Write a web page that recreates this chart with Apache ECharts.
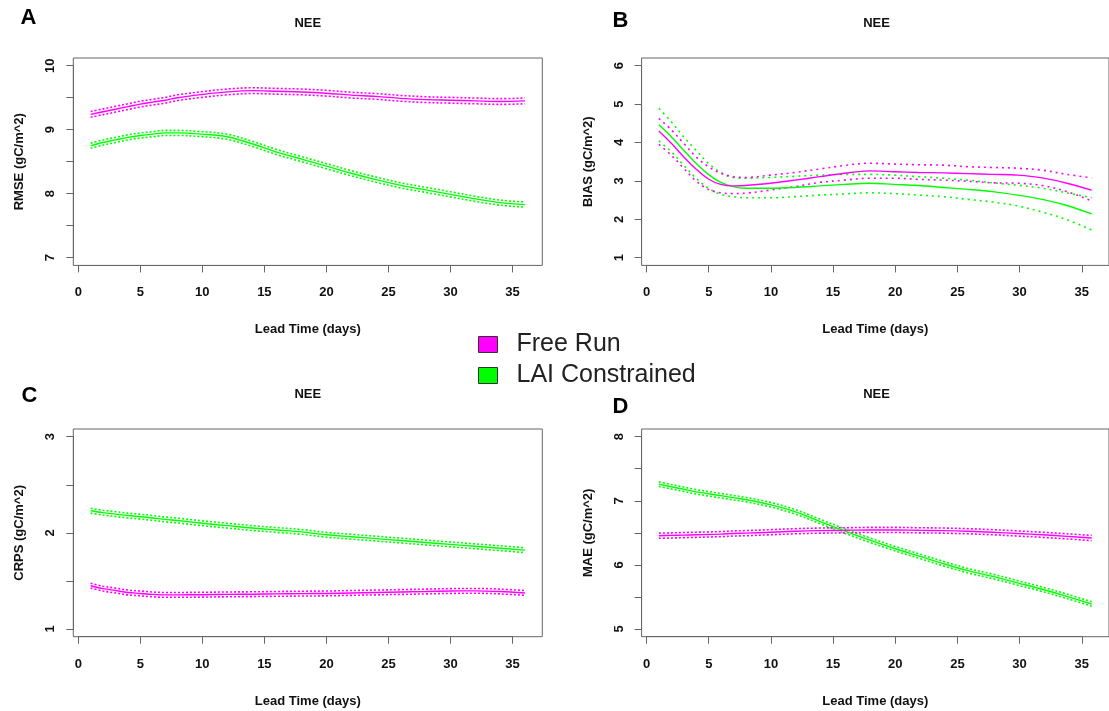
<!DOCTYPE html>
<html>
<head>
<meta charset="utf-8">
<script src="https://cdn.jsdelivr.net/npm/echarts@6/dist/echarts.min.js"></script>
<style>
  html, body { margin: 0; padding: 0; background: #ffffff; }
  #chart { width: 1109px; height: 711px; }
</style>
</head>
<body>
<div id="chart"></div>
<script>
// Lead times (days) at which the fitted curves are sampled
const days = [1, 2, 3, 4, 5, 6, 7, 8, 10, 12, 14, 16, 18, 20, 22, 24, 26, 28, 30, 32, 34, 36];

// Series labels
const seriesNames = ['Free Run', 'LAI Constrained'];

// A: RMSE
const rmseFree = [9.24, 9.28, 9.32, 9.36, 9.40, 9.43, 9.46, 9.50, 9.55, 9.59, 9.61, 9.60, 9.59, 9.57, 9.54, 9.52, 9.49, 9.47, 9.46, 9.45, 9.44, 9.45];
const rmseLai  = [8.75, 8.80, 8.84, 8.88, 8.91, 8.93, 8.95, 8.95, 8.93, 8.89, 8.78, 8.65, 8.54, 8.43, 8.32, 8.22, 8.13, 8.06, 7.99, 7.92, 7.86, 7.83];
const rmseFreeCI = 0.045;
const rmseLaiCI = 0.04;

// B: BIAS (fit with upper / lower confidence limits)
const biasFree   = [4.30, 3.98, 3.63, 3.31, 3.05, 2.91, 2.87, 2.88, 2.94, 3.02, 3.11, 3.20, 3.26, 3.24, 3.22, 3.21, 3.19, 3.17, 3.15, 3.08, 2.94, 2.76];
const biasFreeHi = [4.63, 4.33, 3.98, 3.63, 3.37, 3.20, 3.11, 3.09, 3.15, 3.22, 3.31, 3.40, 3.46, 3.44, 3.42, 3.41, 3.37, 3.35, 3.33, 3.28, 3.17, 3.08];
const biasFreeLo = [3.95, 3.67, 3.33, 3.00, 2.78, 2.69, 2.67, 2.68, 2.76, 2.85, 2.96, 3.02, 3.07, 3.07, 3.04, 3.02, 2.99, 2.95, 2.94, 2.88, 2.72, 2.48];
const biasLai    = [4.46, 4.15, 3.80, 3.46, 3.17, 2.96, 2.85, 2.81, 2.81, 2.83, 2.87, 2.91, 2.94, 2.91, 2.88, 2.83, 2.78, 2.72, 2.63, 2.52, 2.36, 2.14];
const biasLaiHi  = [4.89, 4.54, 4.15, 3.80, 3.46, 3.22, 3.09, 3.07, 3.09, 3.12, 3.15, 3.17, 3.17, 3.15, 3.11, 3.07, 3.02, 2.95, 2.89, 2.81, 2.69, 2.56];
const biasLaiLo  = [4.04, 3.76, 3.41, 3.07, 2.81, 2.65, 2.59, 2.56, 2.56, 2.59, 2.63, 2.66, 2.69, 2.67, 2.63, 2.59, 2.52, 2.45, 2.35, 2.19, 1.99, 1.72];

// C: CRPS
const crpsFree = [1.45, 1.42, 1.40, 1.38, 1.37, 1.36, 1.355, 1.355, 1.357, 1.36, 1.362, 1.365, 1.368, 1.37, 1.375, 1.38, 1.385, 1.39, 1.395, 1.397, 1.39, 1.375];
const crpsLai  = [2.23, 2.21, 2.195, 2.18, 2.168, 2.155, 2.14, 2.128, 2.10, 2.075, 2.05, 2.03, 2.01, 1.98, 1.96, 1.94, 1.92, 1.90, 1.88, 1.86, 1.84, 1.82];
const crpsFreeCI = 0.025;
const crpsLaiCI = 0.025;

// D: MAE
const maeFree = [6.455, 6.46, 6.465, 6.47, 6.475, 6.48, 6.49, 6.495, 6.51, 6.525, 6.535, 6.54, 6.545, 6.545, 6.54, 6.535, 6.525, 6.51, 6.49, 6.47, 6.445, 6.42];
const maeLai  = [7.26, 7.22, 7.18, 7.14, 7.11, 7.08, 7.05, 7.02, 6.94, 6.83, 6.68, 6.53, 6.39, 6.26, 6.14, 6.02, 5.91, 5.82, 5.72, 5.62, 5.51, 5.39];
const maeFreeCI = 0.04;
const maeLaiCI = 0.035;

// Tick ranges of each panel's axes: [first, last, step]
const xTicks = [0, 35, 5];
const rmseTicks = [7, 10, 0.5];
const biasTicks = [1, 6, 1];
const crpsTicks = [1, 3, 0.5];
const maeTicks = [5, 8, 0.5];

const FONT = '"Liberation Sans", Arial, Helvetica, sans-serif';
const MAGENTA = '#ff00ff';
const GREEN = '#00ff00';
const AXIS = '#666666';
const INK = '#111111';

const shift = (arr, d) => arr.map(v => +(v + d).toFixed(4));

const panels = [
  { letter: 'A', box: { left: 73.3, top: 58, width: 469, height: 207.4 }, yTicks: rmseTicks, yName: 'RMSE (gC/m^2)',
    free: rmseFree, freeHi: shift(rmseFree, rmseFreeCI), freeLo: shift(rmseFree, -rmseFreeCI),
    lai: rmseLai, laiHi: shift(rmseLai, rmseLaiCI), laiLo: shift(rmseLai, -rmseLaiCI), dash: [2, 2] },
  { letter: 'B', box: { left: 641.6, top: 58, width: 470, height: 207.4 }, yTicks: biasTicks, yName: 'BIAS (gC/m^2)',
    free: biasFree, freeHi: biasFreeHi, freeLo: biasFreeLo,
    lai: biasLai, laiHi: biasLaiHi, laiLo: biasLaiLo, dash: [2, 4] },
  { letter: 'C', box: { left: 73.3, top: 429, width: 469, height: 207.7 }, yTicks: crpsTicks, yName: 'CRPS (gC/m^2)',
    free: crpsFree, freeHi: shift(crpsFree, crpsFreeCI), freeLo: shift(crpsFree, -crpsFreeCI),
    lai: crpsLai, laiHi: shift(crpsLai, crpsLaiCI), laiLo: shift(crpsLai, -crpsLaiCI), dash: [2, 2] },
  { letter: 'D', box: { left: 641.6, top: 429, width: 470, height: 207.7 }, yTicks: maeTicks, yName: 'MAE (gC/m^2)',
    free: maeFree, freeHi: shift(maeFree, maeFreeCI), freeLo: shift(maeFree, -maeFreeCI),
    lai: maeLai, laiHi: shift(maeLai, maeLaiCI), laiLo: shift(maeLai, -maeLaiCI), dash: [2, 2] }
];

const letterPos = [
  { left: 20.5, top: 7 },
  { left: 612.5, top: 10 },
  { left: 21.5, top: 385 },
  { left: 612.5, top: 396 }
];

// R-style axis extension: 4% beyond the data / tick range
const xDataMin = days[0], xDataMax = days[days.length - 1];
const xPad = 0.04 * (xDataMax - xDataMin);
const xMin = xDataMin - xPad, xMax = xDataMax + xPad;

const grid = [], xAxis = [], yAxis = [], series = [], title = [];

const boldText = (size) => ({ fontFamily: FONT, fontWeight: 'bold', fontSize: size, color: INK });
const hiddenAxis = { axisLine: { show: false, onZero: false }, axisTick: { show: false }, axisLabel: { show: false }, splitLine: { show: false } };

panels.forEach((p, i) => {
  const b = p.box;
  const [y0, y1] = p.yTicks;
  const yPad = 0.04 * (y1 - y0);
  const yMin = y0 - yPad, yMax = y1 + yPad;

  // plotting region with its frame
  grid.push({ left: b.left, top: b.top, width: b.width, height: b.height,
    show: true, borderColor: AXIS, borderWidth: 1, backgroundColor: 'transparent' });
  xAxis.push({ type: 'value', gridIndex: i, min: xMin, max: xMax, ...hiddenAxis,
    name: 'Lead Time (days)', nameLocation: 'middle', nameGap: 58, nameTextStyle: boldText(13) });
  yAxis.push({ type: 'value', gridIndex: i, min: yMin, max: yMax, ...hiddenAxis,
    name: p.yName, nameLocation: 'middle', nameGap: 47, nameTextStyle: boldText(13) });

  title.push({ text: 'NEE', left: b.left + b.width / 2, top: b.top - 41, textAlign: 'center', padding: 0,
    textStyle: boldText(13) });
  title.push({ text: p.letter, left: letterPos[i].left, top: letterPos[i].top, padding: 0,
    textStyle: { fontFamily: FONT, fontWeight: 'bold', fontSize: 22, color: '#000' } });
});

// Axes that span only the tick range, lying on the frame edges.
// One helper grid carries the x axis (horizontal span = tick range), another the y axis.
panels.forEach((p, i) => {
  const b = p.box;
  const [y0, y1, yStep] = p.yTicks;
  const [x0, x1, xStep] = xTicks;
  const yPad = 0.04 * (y1 - y0);
  const yMin = y0 - yPad, yMax = y1 + yPad;
  const pxX = b.width / (xMax - xMin);
  const pxY = b.height / (yMax - yMin);

  const gx = grid.length;
  grid.push({ left: b.left + (x0 - xMin) * pxX, width: (x1 - x0) * pxX, top: b.top, height: b.height, show: false });
  xAxis.push({ type: 'value', gridIndex: gx, min: x0, max: x1, interval: xStep, position: 'bottom',
    axisLine: { show: true, onZero: false, lineStyle: { color: AXIS, width: 1 } },
    axisTick: { show: true, length: 7, lineStyle: { color: AXIS, width: 1 } },
    axisLabel: { ...boldText(13), margin: 21 }, splitLine: { show: false } });
  yAxis.push({ type: 'value', gridIndex: gx, min: yMin, max: yMax, ...hiddenAxis });

  const gy = grid.length;
  grid.push({ left: b.left, width: b.width, top: b.top + (yMax - y1) * pxY, height: (y1 - y0) * pxY, show: false });
  xAxis.push({ type: 'value', gridIndex: gy, min: xMin, max: xMax, ...hiddenAxis });
  yAxis.push({ type: 'value', gridIndex: gy, min: y0, max: y1, interval: yStep, position: 'left',
    axisLine: { show: true, onZero: false, lineStyle: { color: AXIS, width: 1 } },
    axisTick: { show: true, length: 7, lineStyle: { color: AXIS, width: 1 } },
    axisLabel: { ...boldText(13), rotate: 90, margin: 16,
      formatter: v => (Math.abs(v - Math.round(v)) < 1e-9 ? String(Math.round(v)) : '') },
    splitLine: { show: false } });
});

const pairs = (vals) => days.map((d, k) => [d, vals[k]]);

function curve(name, idx, vals, color, dashed, dash) {
  return {
    type: 'line', name: name, xAxisIndex: idx, yAxisIndex: idx,
    data: pairs(vals), showSymbol: false, symbol: 'none', smooth: 0.35,
    color: color, silent: true, animation: false, clip: true,
    lineStyle: { color: color, width: dashed ? 1.6 : 1.4, type: dashed ? dash : 'solid' },
    z: dashed ? 2 : 3
  };
}

panels.forEach((p, i) => {
  series.push(curve(seriesNames[1] + ' upper', i, p.laiHi, GREEN, true, p.dash));
  series.push(curve(seriesNames[1] + ' lower', i, p.laiLo, GREEN, true, p.dash));
  series.push(curve(seriesNames[1], i, p.lai, GREEN, false));
  series.push(curve(seriesNames[0] + ' upper', i, p.freeHi, MAGENTA, true, p.dash));
  series.push(curve(seriesNames[0] + ' lower', i, p.freeLo, MAGENTA, true, p.dash));
  series.push(curve(seriesNames[0], i, p.free, MAGENTA, false));
});

const chart = echarts.init(document.getElementById('chart'), null, { renderer: 'canvas' });
chart.setOption({
  backgroundColor: '#ffffff',
  animation: false,
  title: title,
  grid: grid,
  xAxis: xAxis,
  yAxis: yAxis,
  legend: {
    data: seriesNames, orient: 'vertical', left: 473, top: 326,
    icon: 'rect', itemWidth: 19, itemHeight: 16, itemGap: 4, selectedMode: false,
    itemStyle: { borderColor: '#333333', borderWidth: 1 },
    textStyle: { fontFamily: FONT, fontSize: 25, color: '#222222', lineHeight: 27, padding: [0, 0, 0, 14] }
  },
  series: series
});
</script>
</body>
</html>
